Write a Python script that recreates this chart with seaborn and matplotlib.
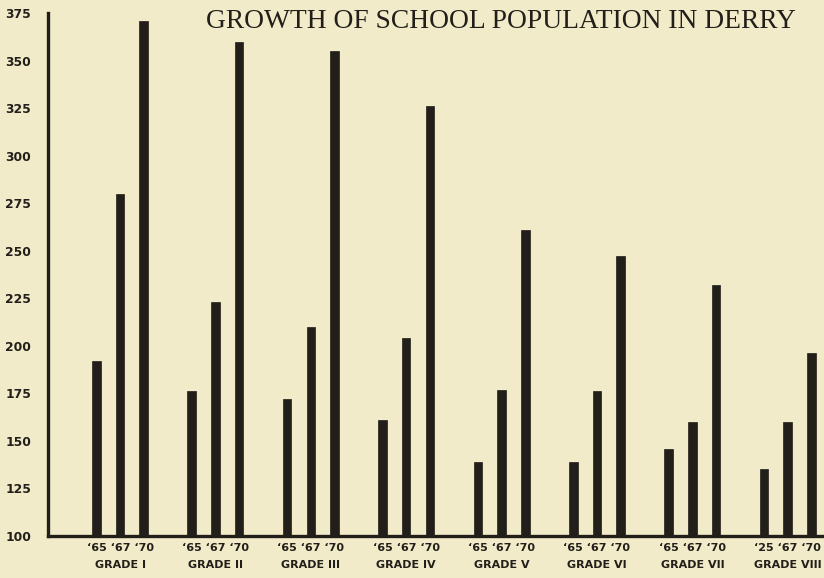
import matplotlib
matplotlib.use("Agg")
import matplotlib.pyplot as plt
import seaborn as sns
import pandas as pd

# ---- data ----
grades = ["GRADE I", "GRADE II", "GRADE III", "GRADE IV",
          "GRADE V", "GRADE VI", "GRADE VII", "GRADE VIII"]
years = ["'65", "'67", "'70"]
pop_65 = [192, 176, 172, 161, 139, 139, 146, 135]
pop_67 = [280, 223, 210, 204, 177, 176, 160, 160]
pop_70 = [371, 360, 355, 326, 261, 247, 232, 196]
year_labels = ["‘65 ‘67 ‘70"] * 7 + ["‘25 ‘67 ‘70"]
y_ticks = [100, 125, 150, 175, 200, 225, 250, 275, 300, 325, 350, 375]
title = "GROWTH OF SCHOOL POPULATION IN DERRY"

df = pd.DataFrame({
    "grade": grades * 3,
    "year": [years[0]] * 8 + [years[1]] * 8 + [years[2]] * 8,
    "pop": pop_65 + pop_67 + pop_70,
})

bg = "#F1EBC9"
ink = "#221E19"

sns.set_style("white")
plt.rcParams["font.family"] = ["DejaVu Sans"]

W, H = 824, 578
fig = plt.figure(figsize=(W / 100, H / 100), dpi=100, facecolor=bg)
ax = fig.add_axes([48 / W, 1 - 536 / H, 1 - 48 / W, (536 - 13) / H])
ax.set_facecolor(bg)

sns.barplot(data=df, x="grade", y="pop", hue="year", order=grades,
            hue_order=years, palette=[ink] * 3, saturation=1,
            width=0.745, gap=0.64, legend=False, ax=ax, errorbar=None,
            edgecolor=ink, linewidth=0.5)

ax.set_ylim(100, 375)
ax.set_xlim(-0.755, 7.38)
ax.set_yticks(y_ticks)
ax.set_yticklabels([str(t) for t in y_ticks], fontsize=8.8, fontweight="bold",
                   color=ink)
ax.set_xticks(range(len(grades)))
ax.set_xticklabels([f"{yl}\n{g}" for yl, g in zip(year_labels, grades)],
                   fontsize=8, fontweight="bold", color=ink, linespacing=1.9)
ax.tick_params(axis="y", direction="in", length=8, width=2, color=ink, pad=12)
ax.tick_params(axis="x", length=0, pad=5)
ax.set_xlabel("")
ax.set_ylabel("")

for s in ["top", "right"]:
    ax.spines[s].set_visible(False)
for s in ["left", "bottom"]:
    ax.spines[s].set_color(ink)
    ax.spines[s].set_linewidth(2.4)

fig.text(501 / W, 1 - 22 / H, title, ha="center", va="center",
         fontsize=19.8, color=ink, family=["Liberation Serif"])

fig.savefig("out.png", dpi=100, facecolor=bg)
